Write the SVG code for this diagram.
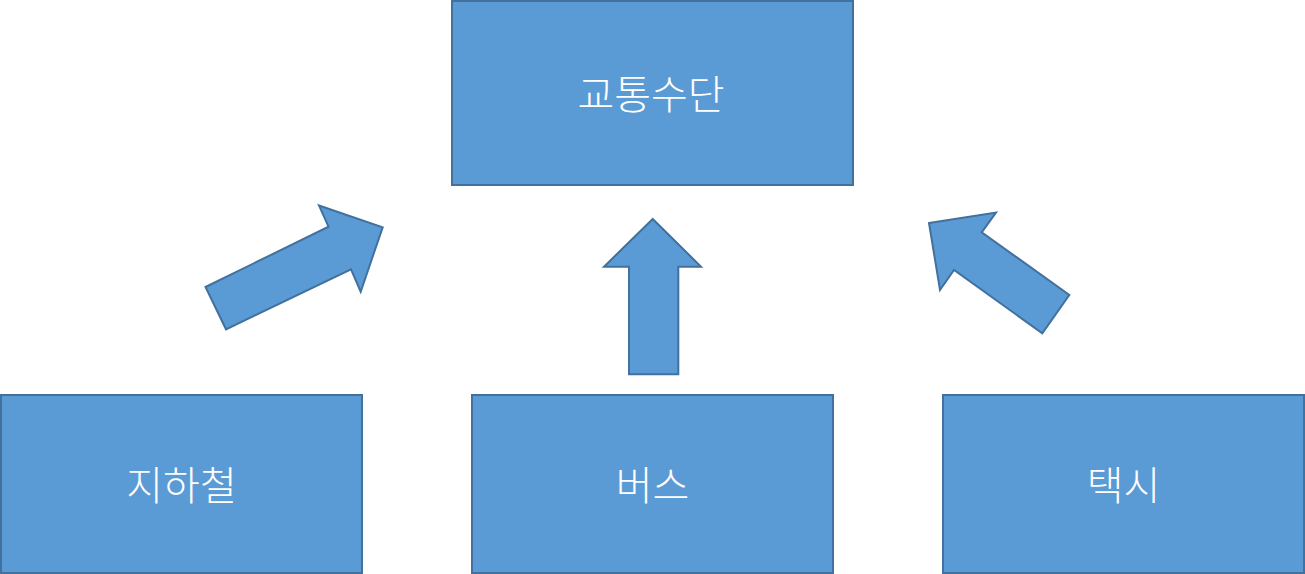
<svg xmlns="http://www.w3.org/2000/svg" width="1305" height="574" viewBox="0 0 1305 574">
<style>
.box{fill:#5B9BD5;stroke:#41719C;stroke-width:2}
.lbl{fill:#FFFFFF;font-family:"Noto Sans CJK KR","Noto Sans",sans-serif;font-size:40px;font-weight:300;text-anchor:middle;dominant-baseline:central}
.arr{fill:#5B9BD5;stroke:#41719C;stroke-width:2;stroke-linejoin:miter}
</style>
<rect width="1305" height="574" fill="#FFFFFF"/>
<g id="node-top">
<rect class="box" x="452" y="1" width="401" height="184"/>
<text class="lbl" x="651" y="92">교통수단</text>
</g>
<g id="node-subway">
<rect class="box" x="1" y="395" width="361" height="178"/>
<text class="lbl" x="181.5" y="483">지하철</text>
</g>
<g id="node-bus">
<rect class="box" x="472" y="395" width="361" height="178"/>
<text class="lbl" x="652.5" y="483">버스</text>
</g>
<g id="node-taxi">
<rect class="box" x="943" y="395" width="361" height="178"/>
<text class="lbl" x="1123.5" y="483">택시</text>
</g>
<g id="connectors">
<polygon class="arr" points="205.5,287 328.5,226.7 319,205.5 382.7,227.3 360.7,291.7 351,269.3 226,329.3"/>
<polygon class="arr" points="652.7,219 604,266.7 629,266.7 629,374.3 678.3,374.3 678.3,266.7 701,266.7"/>
<polygon class="arr" points="929,223 996,212.5 981.7,232.3 1069.3,295 1042.3,333.3 954,270 940,290"/>
</g>
</svg>
